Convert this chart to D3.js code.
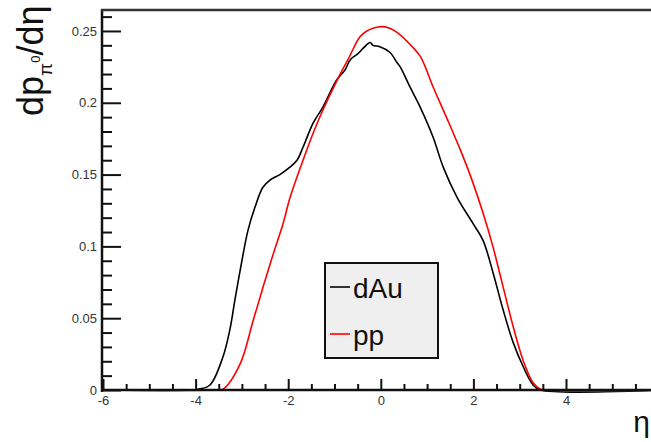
<!DOCTYPE html>
<html><head><meta charset="utf-8">
<script src="https://cdn.jsdelivr.net/npm/d3@7"></script>
<style>body{margin:0;background:#fff;}svg{display:block;font-family:"Liberation Sans",Arial,sans-serif;}</style>
</head><body>
<script>
// ---- data ----
const etaDAu = [-6, -4.1, -3.95, -3.69, -3.41, -3.26, -3.15, -3.00, -2.87, -2.72, -2.55, -2.40, -2.18, -1.97, -1.81, -1.68, -1.46, -1.25, -0.95, -0.77, -0.66, -0.50, -0.38, -0.23, -0.17, -0.02, 0.20, 0.35, 0.42, 0.63, 0.85, 1.13, 1.35, 1.65, 1.99, 2.21, 2.43, 2.64, 2.86, 3.08, 3.29, 3.45, 6];
const dAu    = [0, 0, 0.0005, 0.0035, 0.023, 0.042, 0.063, 0.090, 0.111, 0.127, 0.141, 0.146, 0.150, 0.155, 0.160, 0.169, 0.186, 0.197, 0.216, 0.223, 0.230, 0.234, 0.238, 0.242, 0.240, 0.239, 0.235, 0.228, 0.225, 0.211, 0.197, 0.176, 0.155, 0.134, 0.116, 0.104, 0.081, 0.056, 0.033, 0.016, 0.0035, 0, 0];
const etaPP  = [-6, -3.6, -3.41, -3.04, -2.76, -2.54, -2.33, -2.11, -1.96, -1.68, -1.46, -1.25, -0.94, -0.71, -0.45, -0.30, -0.15, 0.00, 0.18, 0.35, 0.68, 0.86, 1.13, 1.43, 1.72, 1.96, 2.21, 2.42, 2.64, 2.86, 3.07, 3.29, 3.44, 3.55, 6];
const pp     = [0, 0, 0.0005, 0.018, 0.048, 0.072, 0.094, 0.116, 0.134, 0.160, 0.179, 0.195, 0.216, 0.230, 0.246, 0.250, 0.252, 0.253, 0.252, 0.249, 0.239, 0.232, 0.211, 0.189, 0.167, 0.147, 0.123, 0.100, 0.072, 0.044, 0.021, 0.005, 0.0007, 0, 0];
const xMajor = [-6, -4, -2, 0, 2, 4];
const xLabels = ["-6", "-4", "-2", "0", "2", "4"];
const yMajor = [0, 0.05, 0.1, 0.15, 0.2, 0.25];
const yLabels = ["0", "0.05", "0.1", "0.15", "0.2", "0.25"];
const legendNames = ["dAu", "pp"];
const seriesColors = ["#000000", "#ff0000"];

const W = 651, H = 442;
const svg = d3.select("body").append("svg").attr("width", W).attr("height", H);

const x = d3.scaleLinear().domain([-6, 6]).range([103, 658.6]);
const y = d3.scaleLinear().domain([0, 0.2646]).range([390, 10]);

// curves
const line = d3.line().x(d => x(d[0])).y(d => y(d[1])).curve(d3.curveCatmullRom.alpha(0.5));
const series = [d3.zip(etaDAu, dAu), d3.zip(etaPP, pp)];
svg.append("path").datum(series[0]).attr("d", line).attr("fill", "none")
  .attr("stroke", seriesColors[0]).attr("stroke-width", 1.6);
svg.append("path").datum(series[1]).attr("d", line).attr("fill", "none")
  .attr("stroke", seriesColors[1]).attr("stroke-width", 1.6);

// axes
const axisColor = "#111";
const xMinor = d3.range(-6, 6.001, 0.5).filter(v => Math.abs(v / 2 - Math.round(v / 2)) > 1e-6);
const xAx = svg.append("g").attr("transform", `translate(0,${y(0)})`)
  .call(d3.axisBottom(x).tickValues(xMajor).tickFormat((d, i) => xLabels[i]).tickSize(-11).tickPadding(6));
xAx.select(".domain").remove();
xAx.selectAll("line").attr("stroke", axisColor).attr("stroke-width", 2);
xAx.selectAll("text").attr("font-size", 13).attr("fill", "#333").attr("font-family", "Liberation Sans, Arial, sans-serif");
svg.append("g").attr("transform", `translate(0,${y(0)})`)
  .call(d3.axisBottom(x).tickValues(xMinor).tickFormat("").tickSize(-6))
  .call(g => g.select(".domain").remove())
  .selectAll("line").attr("stroke", axisColor).attr("stroke-width", 2);

const yMinor = d3.range(0, 0.2601, 0.01).filter(v => Math.abs(v / 0.05 - Math.round(v / 0.05)) > 1e-6);
const yAx = svg.append("g").attr("transform", `translate(102,0)`)
  .call(d3.axisLeft(y).tickValues(yMajor).tickFormat((d, i) => yLabels[i]).tickSize(-19).tickPadding(5));
yAx.select(".domain").remove();
yAx.selectAll("line").attr("stroke", axisColor).attr("stroke-width", 2);
yAx.selectAll("text").attr("font-size", 13).attr("fill", "#333").attr("font-family", "Liberation Sans, Arial, sans-serif");
svg.append("g").attr("transform", `translate(102,0)`)
  .call(d3.axisLeft(y).tickValues(yMinor).tickFormat("").tickSize(-10))
  .call(g => g.select(".domain").remove())
  .selectAll("line").attr("stroke", axisColor).attr("stroke-width", 2);

// frame
svg.append("line").attr("x1", 102).attr("x2", 102).attr("y1", 9).attr("y2", 392).attr("stroke", axisColor).attr("stroke-width", 2.5);
svg.append("line").attr("x1", 101).attr("x2", 660).attr("y1", y(0)).attr("y2", y(0)).attr("stroke", axisColor).attr("stroke-width", 2.5);
svg.append("line").attr("x1", 101).attr("x2", 660).attr("y1", 10).attr("y2", 10).attr("stroke", "#333").attr("stroke-width", 2.5);

// y title  dp_{pi0}/d eta
const yt = svg.append("text").attr("transform", "translate(43,116) rotate(-90)")
  .attr("font-size", 36).attr("fill", "#111");
yt.append("tspan").text("dp");
yt.append("tspan").attr("font-size", 19).attr("dy", 9).text("π");
yt.append("tspan").attr("font-size", 13).attr("dy", -12).text("0");
yt.append("tspan").attr("dy", 3).text("/dη");

// x title
svg.append("text").attr("x", 650).attr("y", 432).attr("text-anchor", "end")
  .attr("font-size", 30).attr("fill", "#111").text("η");

// legend
const lg = svg.append("g");
lg.append("rect").attr("x", 325).attr("y", 263).attr("width", 113).attr("height", 95)
  .attr("fill", "#efefef").attr("stroke", "#111").attr("stroke-width", 2);
const ly = [287, 334];
legendNames.forEach((n, i) => {
  lg.append("line").attr("x1", 330).attr("x2", 350).attr("y1", ly[i]).attr("y2", ly[i])
    .attr("stroke", seriesColors[i]).attr("stroke-width", 1.6);
  lg.append("text").attr("x", 353).attr("y", ly[i] + 11).attr("font-size", 28).attr("fill", "#111").text(n);
});
</script>
</body></html>
